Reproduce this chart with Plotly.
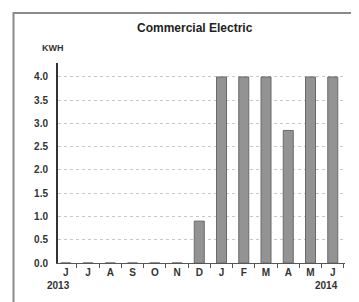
import plotly.graph_objects as go

months = ["J", "J", "A", "S", "O", "N", "D", "J", "F", "M", "A", "M", "J"]
kwh = [0, 0, 0, 0, 0, 0, 0.9, 4.0, 4.0, 4.0, 2.85, 4.0, 4.0]
y_ticks = [0.0, 0.5, 1.0, 1.5, 2.0, 2.5, 3.0, 3.5, 4.0]
y_labels = ["0.0", "0.5", "1.0", "1.5", "2.0", "2.5", "3.0", "3.5", "4.0"]
years = ["2013", "2014"]

xs = list(range(len(months)))

fig = go.Figure()
fig.add_trace(go.Bar(
    x=xs, y=kwh, width=0.45,
    marker=dict(color="#939393", line=dict(color="#6a6a6a", width=1)),
))

fig.update_layout(
    width=359, height=302,
    margin=dict(l=50, r=22, t=55, b=47),
    paper_bgcolor="white", plot_bgcolor="white",
    showlegend=False,
    font=dict(family="Liberation Sans, Arial", color="#333333"),
    title=dict(text="<b>Commercial Electric</b>", x=0.52, xanchor="center",
               y=0.934, yanchor="middle", font=dict(size=12, color="#222222")),
    xaxis=dict(
        range=[-0.35, 12.55], tickmode="array", tickvals=xs,
        ticktext=["<b>" + m + "</b>" for m in months],
        ticks="", showgrid=False, zeroline=False,
        showline=True, linecolor="#555555", linewidth=1,
        tickfont=dict(size=10, color="#333333"),
        minor=dict(tick0=0.5, dtick=1, ticks="outside", ticklen=4,
                   tickcolor="#555555", showgrid=False),
    ),
    yaxis=dict(
        range=[0, 4.3], tickmode="array", tickvals=y_ticks,
        ticktext=["<b>" + t + "</b>" for t in y_labels],
        showgrid=True, gridcolor="#c8c8c8", griddash="dot", gridwidth=1,
        zeroline=False, showline=True, linecolor="#333333", linewidth=2,
        ticks="", ticklabelstandoff=6,
        tickfont=dict(size=10, color="#333333"),
    ),
)

fig.add_annotation(text="<b>KWH</b>", xref="paper", yref="paper",
                   x=-0.063, y=1.11, showarrow=False,
                   font=dict(size=9, color="#333333"))
fig.add_annotation(text="<b>" + years[0] + "</b>", xref="paper", yref="paper",
                   x=-0.045, y=-0.15, showarrow=False,
                   font=dict(size=10, color="#333333"))
fig.add_annotation(text="<b>" + years[1] + "</b>", xref="paper", yref="paper",
                   x=0.983, y=-0.15, showarrow=False,
                   font=dict(size=10, color="#333333"))
# outer frame
fig.add_shape(type="rect", xref="paper", yref="paper",
              x0=-0.155, x1=1.063, y0=-0.215, y1=1.25,
              line=dict(color="#8a8a8a", width=2))

fig.write_html("out.html")
